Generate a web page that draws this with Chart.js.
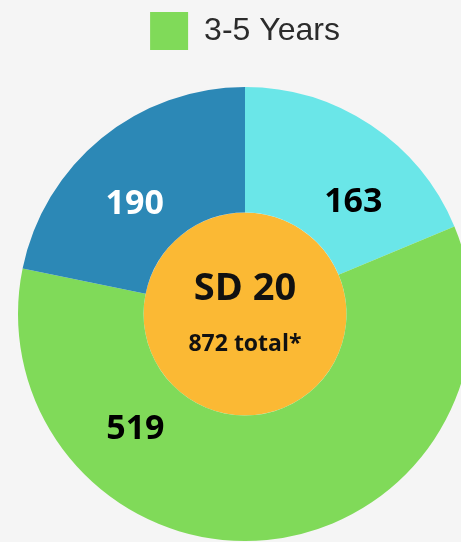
<!DOCTYPE html>
<html>
<head>
<meta charset="utf-8">
<script src="https://cdn.jsdelivr.net/npm/chart.js@4"></script>
<style>
  html, body { margin: 0; padding: 0; background: #f5f5f5; overflow: hidden; }
  #wrap { position: absolute; left: 0; top: 0; width: 490px; height: 568px; }
</style>
</head>
<body>
<div id="wrap"><canvas id="myChart"></canvas></div>
<script>
// data
var groups = ['', '3-5 Years', ''];
var counts = [163, 519, 190];
var colors = ['#6ae6e8', '#80da59', '#2c88b6'];
var labelColors = ['#000', '#000', '#fff'];
var legendShown = ['3-5 Years'];
var centerTitle = 'SD 20';
var centerSub = '872 total*';

// where each number sits inside its slice (fraction of the arc, fraction of the ring)
var labelSpot = [0.646, 0.732, 0.433];
var labelRing = 0.446;

var centerPlugin = {
    id: 'centerFill',
    beforeDatasetsDraw: function(chart) {
        var arc = chart.getDatasetMeta(0).data[0];
        if (!arc) return;
        var c = chart.ctx;
        c.save();
        c.fillStyle = '#fbb934';
        c.beginPath();
        c.arc(arc.x, arc.y, arc.innerRadius, 0, Math.PI * 2);
        c.fill();
        c.restore();
    },
    afterDatasetsDraw: function(chart) {
        var meta = chart.getDatasetMeta(0);
        var c = chart.ctx;
        c.save();
        c.textAlign = 'center';
        c.textBaseline = 'alphabetic';
        meta.data.forEach(function(arc, i) {
            var a = arc.startAngle + (arc.endAngle - arc.startAngle) * labelSpot[i];
            var r = arc.innerRadius + (arc.outerRadius - arc.innerRadius) * labelRing;
            c.fillStyle = labelColors[i];
            c.font = 'bold 34px "Open Sans"';
            c.fillText(String(counts[i]), arc.x + Math.cos(a) * r, arc.y + Math.sin(a) * r + 12);
        });
        var first = meta.data[0];
        c.fillStyle = '#111';
        c.font = 'bold 38px "Open Sans"';
        c.fillText(centerTitle, first.x, first.y - 14);
        c.font = 'bold 23px "Open Sans"';
        c.fillText(centerSub, first.x, first.y + 37);
        c.restore();
    }
};

var ctx = document.getElementById('myChart');
var myChart = new Chart(ctx, {
    type: 'doughnut',
    data: {
        labels: groups,
        datasets: [
            {
                data: counts,
                backgroundColor: colors,
                borderWidth: 0
            }
        ]
    },
    options: {
        responsive: true,
        maintainAspectRatio: false,
        animation: false,
        cutout: '44.7%',
        layout: { padding: { left: 18, right: 18 } },
        plugins: {
            tooltip: { enabled: false },
            legend: {
                position: 'top',
                labels: {
                    boxWidth: 38,
                    boxHeight: 38,
                    padding: 12,
                    color: '#2b2b2b',
                    font: { family: '"Liberation Sans", Arial, sans-serif', size: 32 },
                    filter: function(item) { return legendShown.indexOf(item.text) >= 0; }
                }
            }
        }
    },
    plugins: [centerPlugin]
});
</script>
</body>
</html>
